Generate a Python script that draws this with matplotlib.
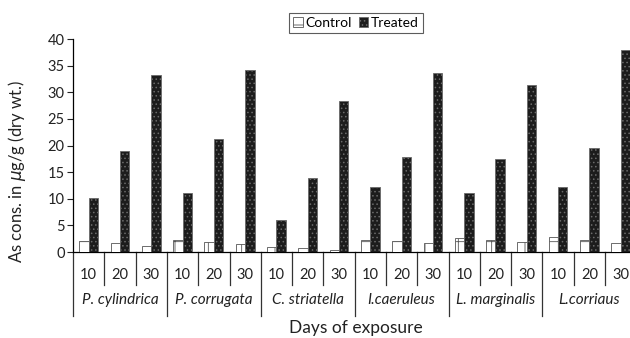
import matplotlib
matplotlib.use("Agg")
import matplotlib.pyplot as plt
import matplotlib.transforms as mtransforms
import numpy as np

plt.rcParams["font.family"] = ["Lato", "DejaVu Sans"]
plt.rcParams["hatch.linewidth"] = 0.6

species = ["P. cylindrica", "P. corrugata", "C. striatella",
           "I.caeruleus", "L. marginalis", "L.corriaus"]
days = ["10", "20", "30"]
control = [2.1, 1.7, 1.2, 2.3, 1.9, 1.5, 1.0, 0.8, 0.3,
           2.2, 2.0, 1.6, 2.6, 2.2, 1.8, 2.8, 2.2, 1.6]
treated = [10.2, 19.0, 33.2, 11.1, 21.3, 34.2, 6.1, 13.9, 28.3,
           12.3, 17.9, 33.7, 11.1, 17.5, 31.3, 12.3, 19.6, 38.0]
yticks = [0, 5, 10, 15, 20, 25, 30, 35, 40]

fig = plt.figure(figsize=(6.3, 3.38), dpi=100)
ax = fig.add_axes([0.116, 0.2544, 0.894, 0.6302])

n = len(control)
x = np.arange(n)
w = 0.3
b1 = ax.bar(x - w / 2, control, w, facecolor="white", edgecolor="#555555",
            hatch="+", lw=0.6, label="Control", zorder=3)
b2 = ax.bar(x + w / 2, treated, w, facecolor="#1c1c1c", edgecolor="#6a6a6a",
            hatch="....", lw=0.6, label="Treated", zorder=3)

ax.set_xlim(-0.5, n - 0.5)
ax.set_ylim(0, 40)
ax.set_yticks(yticks)
ax.tick_params(axis="y", direction="out", length=4, width=0.8, labelsize=10.5,
               colors="#222222", pad=2)
ax.set_xticks([])
for s in ("top", "right"):
    ax.spines[s].set_visible(False)
ax.spines["left"].set_bounds(0, 40)
ax.spines["bottom"].set_linewidth(0.9)
ax.spines["left"].set_linewidth(0.9)

# multi-level category axis
tr = mtransforms.blended_transform_factory(ax.transData, ax.transAxes)
for i in range(n + 1):
    pos = i - 0.5
    low = -0.30 if i % 3 == 0 else -0.155
    ax.plot([pos, pos], [0, low], transform=tr, color="#333333", lw=0.9,
            clip_on=False)
for i in range(n):
    ax.text(i, -0.108, days[i % 3], transform=tr, ha="center", va="center",
            fontsize=10.5, color="#222222")
for g, name in enumerate(species):
    ax.text(g * 3 + 1, -0.226, name, transform=tr, ha="center", va="center",
            fontsize=11, style="italic", color="#222222")

fig.text(0.565, 0.03, "Days of exposure", ha="center", va="center",
         fontsize=12.5, color="#222222")
fig.text(0.027, 0.494, r"As cons. in $\mu$g/g (dry wt.)", rotation=90,
         ha="center", va="center", fontsize=12, color="#222222")

leg = fig.legend(handles=[b1, b2], loc="center", bbox_to_anchor=(0.565, 0.932),
                 ncol=2, frameon=True, fancybox=False, fontsize=10,
                 handlelength=0.7, handleheight=0.7, handletextpad=0.2,
                 columnspacing=0.5, borderpad=0.3, borderaxespad=0)
leg.get_frame().set_edgecolor("#333333")
leg.get_frame().set_linewidth(0.8)

fig.savefig("out.png", dpi=100)
